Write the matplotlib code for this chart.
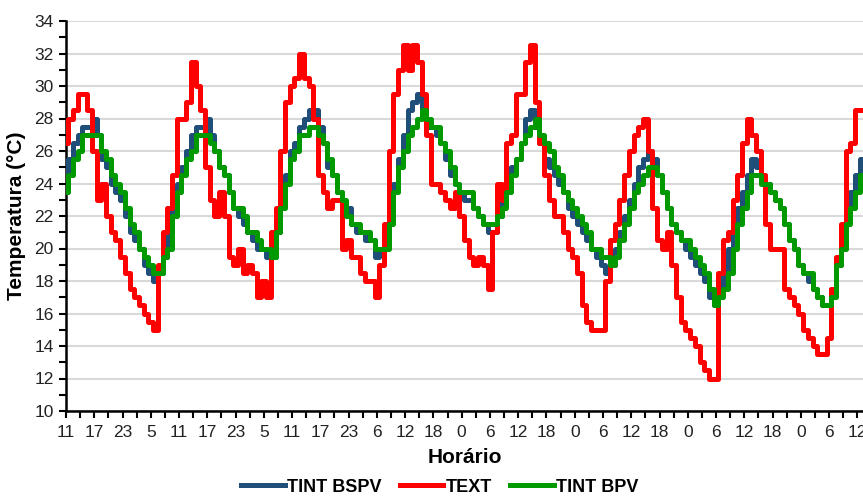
import matplotlib
matplotlib.use("Agg")
import matplotlib.pyplot as plt
import numpy as np

plt.rcParams['font.family'] = ['Liberation Sans', 'DejaVu Sans']

# hourly readings, starting at 11 h
tick_labels = ["11", "17", "23", "5", "11", "17", "23", "5", "11", "17", "23", "6", "12", "18",
               "0", "6", "12", "18", "0", "6", "12", "18", "0", "6", "12", "18", "0", "6", "12"]

text_ext = [26.5, 28, 28.5, 29.5, 29.5, 28.5, 26, 23, 24, 22,
            21, 20.5, 19.5, 18.5, 17.5, 17, 16.5, 16, 15.5, 15,
            19, 21, 22.5, 24.5, 28, 28, 29, 31.5, 30, 28.5,
            25, 23, 22, 23.5, 22, 19.5, 19, 20, 18.5, 19,
            18.5, 17, 18, 17, 21, 22.5, 26, 29, 30, 30.5,
            32, 30.5, 30, 28, 24.5, 23.5, 22.5, 23, 23, 20,
            20.5, 19.5, 19.5, 18.5, 18, 18, 17, 19, 21.5, 26,
            29.5, 31, 32.5, 31, 32.5, 31.5, 29.5, 27, 24, 24,
            23.5, 23, 22.5, 23.5, 22, 20.5, 19.5, 19, 19.5, 19,
            17.5, 21, 24, 23, 26.5, 27, 29.5, 29.5, 31.5, 32.5,
            29, 26.5, 24.5, 23, 22, 22, 21, 20, 19.5, 18.5,
            16.5, 15.5, 15, 15, 15, 18, 20.5, 21.5, 23, 24.5,
            26, 27, 27.5, 28, 26, 22.5, 20.5, 20, 21, 19,
            17, 15.5, 15, 14.5, 14, 13, 12.5, 12, 12, 18.5,
            20.5, 21, 23, 24.5, 26.5, 28, 27, 26, 24.5, 21.5,
            20, 20, 20, 17.5, 17, 16.5, 16, 15, 14.5, 14,
            13.5, 13.5, 14.5, 17.5, 19.5, 21.5, 26, 26.5, 28.5, 28.5]

tint_bspv = [24.5, 25.5, 26.5, 27, 27.5, 27.5, 28, 27, 25.5, 25,
             24, 23.5, 23, 22, 21, 20.5, 20, 19, 18.5, 18,
             18.5, 19.5, 21, 22.5, 24, 25, 26, 27, 27.5, 27.5,
             28, 27, 26, 25, 24.5, 23.5, 22.5, 22, 21.5, 21,
             20.5, 20, 20, 19.5, 19.5, 21, 23, 24.5, 26, 26.5,
             27.5, 28, 28.5, 28.5, 27.5, 26.5, 25, 24.5, 23.5, 22.5,
             22.5, 21.5, 21, 21, 20.5, 20.5, 19.5, 20, 20.5, 22,
             24, 25.5, 27, 28.5, 29, 29.5, 28.5, 27.5, 27.5, 27,
             26.5, 25.5, 24.5, 24, 23.5, 23, 23, 22.5, 22, 21.5,
             21, 21, 22, 23, 24, 25, 25.5, 26.5, 28, 28.5,
             27.5, 26.5, 25.5, 25, 24.5, 24, 23.5, 22.5, 22, 21.5,
             21, 20.5, 20, 19.5, 19, 18.5, 19, 20, 21, 22,
             23, 24, 25, 25.5, 26, 25.5, 24.5, 23.5, 22.5, 21.5,
             21, 20.5, 20, 19.5, 19, 18.5, 18, 17, 16.5, 17.5,
             18.5, 20, 21, 22.5, 23.5, 24.5, 25.5, 25, 24.5, 24,
             23.5, 23, 22.5, 21.5, 20.5, 20, 19, 18.5, 18, 17.5,
             17, 16.5, 16.5, 17.5, 19, 20.5, 22.5, 23.5, 24.5, 25.5]

tint_bpv = [23.5, 24.5, 25.5, 26, 27, 27, 27, 27, 26, 25.5,
            24.5, 24, 23.5, 22.5, 21.5, 21, 20, 19.5, 19, 18.5,
            18.5, 19.5, 20, 22, 23.5, 24.5, 25.5, 26, 27, 27,
            27, 26.5, 26, 25, 24.5, 23.5, 22.5, 22.5, 22, 21,
            21, 20.5, 20, 20, 19.5, 21, 22.5, 24, 25.5, 26,
            27, 27, 27.5, 27.5, 27, 26.5, 25.5, 24.5, 23.5, 23,
            22, 21.5, 21.5, 21, 21, 20.5, 20, 20, 20, 21.5,
            23.5, 25, 26, 27, 27.5, 28, 28.5, 28, 27.5, 27.5,
            26.5, 26, 25, 24, 23.5, 23.5, 23.5, 22.5, 22, 21.5,
            21.5, 21.5, 22, 22.5, 23.5, 24.5, 25.5, 26.5, 27, 27.5,
            28, 27, 26.5, 26, 25, 24.5, 23.5, 23, 22.5, 22,
            21.5, 21, 20, 20, 19.5, 19.5, 19, 19.5, 20.5, 21.5,
            22.5, 23.5, 24, 24.5, 25, 25, 24.5, 23.5, 22.5, 21.5,
            21, 20.5, 20.5, 20, 19.5, 19, 18.5, 17.5, 16.5, 17,
            17.5, 18.5, 20, 21.5, 22.5, 23.5, 24.5, 24.5, 24, 24,
            23.5, 23, 22.5, 21.5, 20.5, 20, 19, 18.5, 18.5, 17.5,
            17, 16.5, 16.5, 17, 19, 20, 21.5, 22.5, 23.5, 24.5]

hours = np.arange(len(text_ext))

fig = plt.figure(figsize=(8.63, 4.97), dpi=100)
ax = fig.add_axes([66 / 863, 86 / 497, 797 / 863, 390 / 497])

lw = 3.6
ax.plot(hours, tint_bspv, color='#1F4E79', lw=lw, drawstyle='steps-mid', label='TINT BSPV', zorder=3)
ax.plot(hours, text_ext, color='#FF0000', lw=lw, drawstyle='steps-mid', label='TEXT', zorder=4)
ax.plot(hours, tint_bpv, color='#009900', lw=lw, drawstyle='steps-mid', label='TINT BPV', zorder=5)

ax.set_ylim(10, 34)
ax.set_yticks(np.arange(10, 35, 2))
ax.set_yticks(np.arange(10, 35, 1), minor=True)
ax.set_xlim(0, 169.2)
ax.set_xticks(np.arange(0, 169, 6))
ax.set_xticklabels(tick_labels)
ax.set_xticks(np.arange(0, 169, 3), minor=True)

ax.grid(axis='y', which='major', color='#D9D9D9', lw=1.5, zorder=0)
for s in ['top', 'right']:
    ax.spines[s].set_visible(False)
for s in ['left', 'bottom']:
    ax.spines[s].set_linewidth(1.8)
    ax.spines[s].set_color('black')

ax.tick_params(axis='both', which='major', direction='out', length=5, width=1.5,
               labelsize=12.5, colors='black', labelcolor='#222222')
ax.tick_params(axis='both', which='minor', direction='out', length=5, width=1.5, colors='black')
ax.tick_params(axis='x', pad=5)
ax.tick_params(axis='y', pad=4)

ax.set_ylabel('Temperatura (°C)', fontsize=15, fontweight='bold', labelpad=6)
ax.set_xlabel('Horário', fontsize=15, fontweight='bold', labelpad=6)

fig.legend(loc='center', bbox_to_anchor=(440 / 863, 1 - 487 / 497), ncol=3, frameon=False,
           prop={'size': 13, 'weight': 'bold'}, handlelength=2.4, columnspacing=1.0,
           handletextpad=0.15, borderpad=0.1)

fig.savefig('out.png', dpi=100)
